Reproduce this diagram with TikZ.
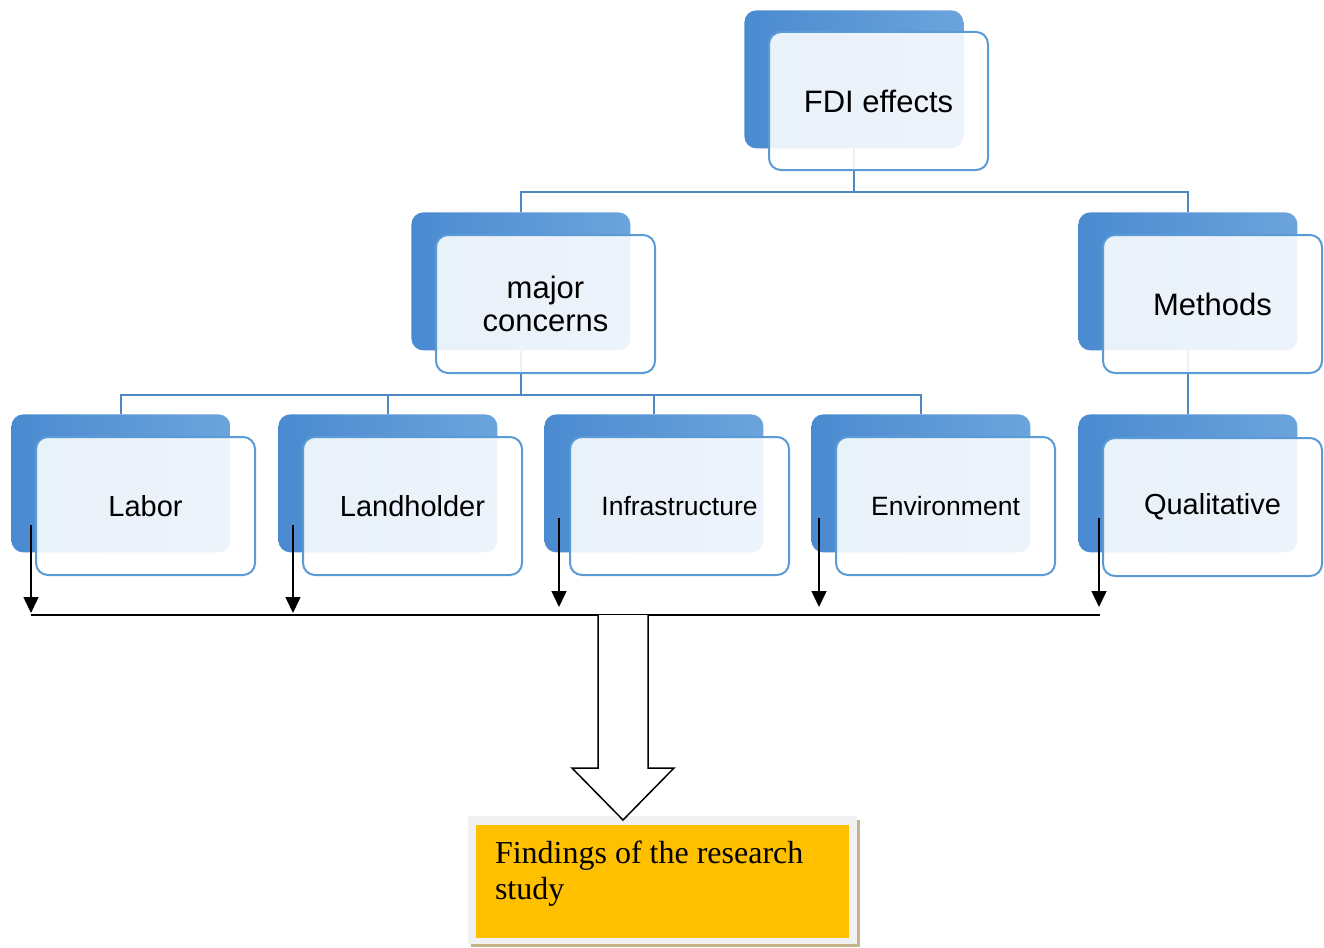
\documentclass[tikz,border=0pt]{standalone}
\usepackage{fontspec}
\setmainfont{Liberation Serif}
\setsansfont{Liberation Sans}
\usetikzlibrary{arrows.meta}

\definecolor{bluedark}{HTML}{4A8AD0}
\definecolor{bluelight}{HTML}{6CA4DC}
\definecolor{bluerim}{HTML}{5B9BD5}
\definecolor{bluelink}{HTML}{4F87C2}
\definecolor{findorange}{HTML}{FFC000}
\definecolor{framegrey}{HTML}{F1F1F1}
\definecolor{shadowtan}{HTML}{C4B48A}

\tikzset{every picture/.style={line width=0.75pt}}

\begin{document}
\begin{tikzpicture}[x=1pt,y=1pt,yscale=-1,xscale=1,
	backbox/.style={anchor=north west,minimum width=219,minimum height=138,inner sep=0,rounded corners=12,left color=bluedark,right color=bluelight},
	frontbox/.style={anchor=north west,minimum width=219,minimum height=138,inner sep=0,rounded corners=12,draw=bluerim,line width=2,fill=white,fill opacity=0.88,text opacity=1,align=center,font=\sffamily\fontsize{31}{33}\selectfont},
	midtext/.style={font=\sffamily\fontsize{29}{33}\selectfont},
	smalltext/.style={font=\sffamily\fontsize{26.5}{30}\selectfont},
	link/.style={draw=bluelink,line width=2.5},
	downarr/.style={line width=1.5,-{Triangle[length=16pt,width=15pt]}}]
	\useasboundingbox (0,0) rectangle (1324,947);
	
	%back blocks
	\node[backbox] (fdiB) at (744,10) {};
	\node[backbox] (majB) at (411,212) {};
	\node[backbox] (metB) at (1078,212) {};
	\node[backbox] (labB) at (11,414) {};
	\node[backbox] (lanB) at (278,414) {};
	\node[backbox] (infB) at (544,414) {};
	\node[backbox] (envB) at (811,414) {};
	\node[backbox] (quaB) at (1078,414) {};
	
	%tree links
	\draw[link] (fdiB.south) -- ++(0,43) -| (majB.north);
	\draw[link] (fdiB.south) -- ++(0,43) -| (metB.north);
	\draw[link] (majB.south) -- ++(0,44) -| (labB.north);
	\draw[link] (majB.south) -- ++(0,44) -| (lanB.north);
	\draw[link] (majB.south) -- ++(0,44) -| (infB.north);
	\draw[link] (majB.south) -- ++(0,44) -| (envB.north);
	\draw[link] (metB.south) -- (quaB.north);
	
	%front blocks
	\node[frontbox] (fdi) at (768,31) {FDI effects};
	\node[frontbox] (maj) at (435,234) {major\\concerns};
	\node[frontbox] (met) at (1102,234) {Methods};
	\node[frontbox,midtext] (lab) at (35,436) {Labor};
	\node[frontbox,midtext] (lan) at (302,436) {Landholder};
	\node[frontbox,smalltext] (inf) at (569,436) {Infrastructure};
	\node[frontbox,smalltext] (env) at (835,436) {Environment};
	\node[frontbox,midtext] (qua) at (1102,437) {Qualitative};
	
	%arrows to the bus
	\coordinate (busW) at (31,615);
	\coordinate (busE) at (1100,615);
	\coordinate (labA) at (31,525);
	\coordinate (lanA) at (293,525);
	\coordinate (infA) at (559,518);
	\coordinate (envA) at (819,518);
	\coordinate (quaA) at (1099,518);
	\draw[downarr,shorten >=2pt] (labA) -- (labA |- busW);
	\draw[downarr,shorten >=2pt] (lanA) -- (lanA |- busW);
	\draw[downarr,shorten >=8pt] (infA) -- (infA |- busW);
	\draw[downarr,shorten >=8pt] (envA) -- (envA |- busW);
	\draw[downarr,shorten >=8pt] (quaA) -- (quaA |- busW);
	\draw[line width=1.5] (busW) -- (busE);
	
	%findings box
	\fill[shadowtan] (471,820) rectangle (860,947);
	\fill[framegrey] (468,816) rectangle (857,944);
	\node[fill=findorange,minimum width=373,minimum height=113,inner sep=0] (find) at (662.5,881.5)
		{\parbox[c][95pt][t]{335pt}{\fontsize{32}{36}\selectfont\vspace*{7pt}Findings of the research\\study}};
	
	%block arrow
	\coordinate (bigA) at (623,615);
	\draw[line width=1.5,fill=white] (bigA) ++(-25,0) -- ++(0,153) -- ++(-26,0) -- ++(51,52) -- ++(51,-52) -- ++(-26,0) -- ++(0,-153);
	
\end{tikzpicture}
\end{document}
